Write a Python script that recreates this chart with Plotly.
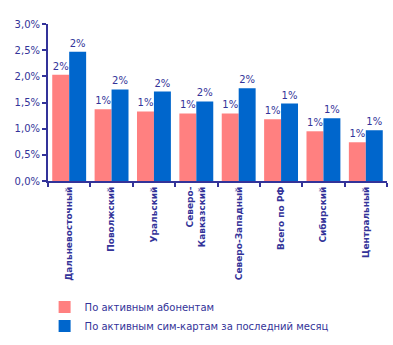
import plotly.graph_objects as go

categories = ["Дальневосточный", "Поволжский", "Уральский", "Северо-<br>Кавказский",
              "Северо-Западный", "Всего по РФ", "Сибирский", "Центральный"]
subscribers = [0.0203, 0.0137, 0.0133, 0.0129, 0.0129, 0.0118, 0.0095, 0.0074]
simcards = [0.0247, 0.0175, 0.0171, 0.0152, 0.0177, 0.0148, 0.0120, 0.0097]
series_names = ["По активным абонентам", "По активным сим-картам за последний месяц"]
y_ticks = [0, 0.005, 0.01, 0.015, 0.02, 0.025, 0.03]

ink = "#333399"
font = "DejaVu Sans"

fig = go.Figure()
fig.add_trace(go.Bar(x=categories, y=subscribers, name=series_names[0],
                     marker=dict(color="#FF8080", line=dict(width=0)),
                     texttemplate="%{y:.0%}", textposition="outside",
                     textfont=dict(color=ink, size=10, family=font), cliponaxis=False))
fig.add_trace(go.Bar(x=categories, y=simcards, name=series_names[1],
                     marker=dict(color="#0066CC", line=dict(width=0)),
                     texttemplate="%{y:.0%}", textposition="outside",
                     textfont=dict(color=ink, size=10, family=font), cliponaxis=False))

fig.update_layout(
    width=393, height=345,
    margin=dict(l=48, r=6, t=24, b=163),
    paper_bgcolor="white", plot_bgcolor="white",
    separators=", ",
    barmode="group", bargap=0.2, bargroupgap=0,
    font=dict(family=font, color=ink, size=10),
    showlegend=True,
    legend=dict(orientation="v", x=-0.01, y=-0.70, xanchor="left", yanchor="top",
                font=dict(size=10, color=ink, family=font), itemwidth=30,
                tracegroupgap=0, bgcolor="rgba(0,0,0,0)"),
)
fig.update_xaxes(showline=True, linecolor=ink, linewidth=2, ticks="outside",
                 tickson="boundaries", ticklen=4, tickwidth=2, tickcolor=ink,
                 tickangle=-90, tickfont=dict(size=9, color=ink, family=font, weight="bold"),
                 showgrid=False)
fig.update_yaxes(range=[0, 0.03], tickvals=y_ticks, tickformat=".1%",
                 showline=True, linecolor=ink, linewidth=2, ticks="outside",
                 ticklen=4, tickwidth=2, tickcolor=ink, showgrid=False, zeroline=False,
                 tickfont=dict(size=10, color=ink, family=font))

fig.write_html("out.html")
